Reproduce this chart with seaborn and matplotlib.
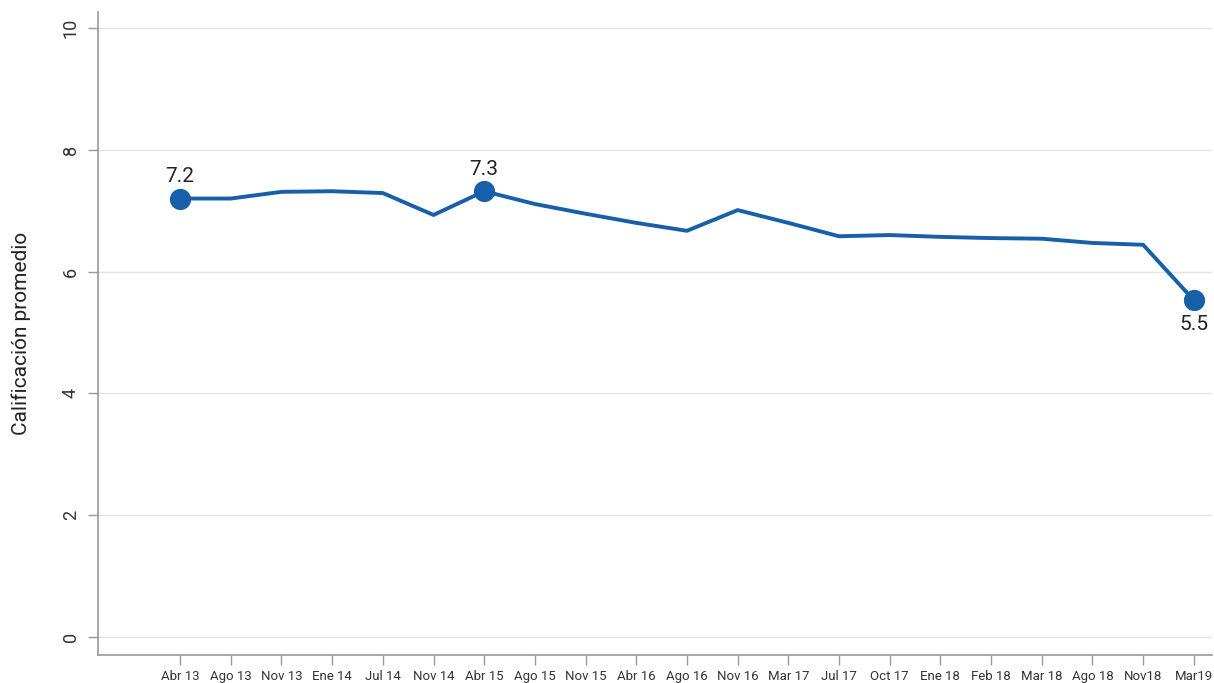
import numpy as np
import pandas as pd
import matplotlib
matplotlib.use("Agg")
import matplotlib.pyplot as plt
import seaborn as sns

periods = ["Abr 13", "Ago 13", "Nov 13", "Ene 14", "Jul 14", "Nov 14", "Abr 15",
           "Ago 15", "Nov 15", "Abr 16", "Ago 16", "Nov 16", "Mar 17", "Jul 17",
           "Oct 17", "Ene 18", "Feb 18", "Mar 18", "Ago 18", "Nov18", "Mar19"]
scores = [7.2, 7.2, 7.31, 7.32, 7.29, 6.93, 7.32, 7.11, 6.95, 6.80, 6.67,
          7.01, 6.80, 6.58, 6.60, 6.57, 6.55, 6.54, 6.47, 6.44, 5.53]
marked = ["Abr 13", "Abr 15", "Mar19"]
marked_text = ["7.2", "7.3", "5.5"]

df = pd.DataFrame({"periodo": periods, "calif": scores})
df["pos"] = np.arange(len(df))

sns.set_style("white")
plt.rcParams["font.family"] = ["Roboto", "DejaVu Sans"]

blue = "#185fa9"
fig = plt.figure(figsize=(12.14, 6.83), dpi=100)
ax = fig.add_axes([0.0807, 0.041, 0.9173, 0.941])

sns.lineplot(data=df, x="pos", y="calif", color=blue, linewidth=2.8, ax=ax)
pts = df[df["periodo"].isin(marked)]
sns.scatterplot(data=pts, x="pos", y="calif", color=blue, s=200, edgecolor=blue,
                zorder=5, ax=ax)
for name, txt in zip(marked, marked_text):
    row = df[df["periodo"] == name].iloc[0]
    dy = -0.25 if name == "Mar19" else 0.2
    va = "top" if name == "Mar19" else "bottom"
    ax.text(row["pos"], row["calif"] + dy, txt, ha="center", va=va,
            fontsize=15, color="#222222")

ax.set_xlim(-1.62, 20.35)
ax.set_ylim(-0.3, 10.26)
ax.set_xticks(df["pos"])
ax.set_xticklabels(periods, fontsize=9.5, color="#333333")
ax.set_yticks([0, 2, 4, 6, 8, 10])
ax.set_yticklabels(["0", "2", "4", "6", "8", "10"], rotation=90, va="center",
                   fontsize=13, color="#333333")
ax.yaxis.grid(True, color="#e3e3e3", linewidth=1)
ax.set_xlabel("")
ax.set_ylabel("Calificación promedio", fontsize=15, color="#222222", labelpad=22)

for side in ["top", "right"]:
    ax.spines[side].set_visible(False)
for side in ["left", "bottom"]:
    ax.spines[side].set_color("#999999")
    ax.spines[side].set_linewidth(1.2)
ax.tick_params(axis="both", which="both", direction="out", length=7,
               color="#999999", width=1, bottom=True, left=True)
ax.tick_params(axis="x", pad=3.5)
ax.tick_params(axis="y", pad=6)

fig.savefig("out.png", dpi=100)
